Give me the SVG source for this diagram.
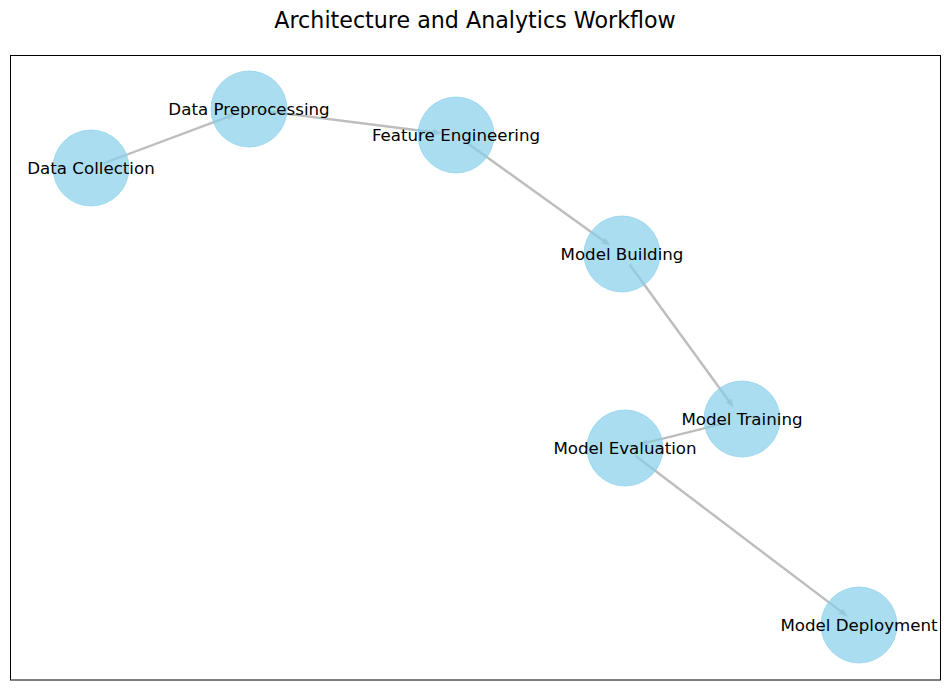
<svg xmlns="http://www.w3.org/2000/svg" width="950" height="689" viewBox="0 0 950 689">
<style>
.title{font-family:"DejaVu Sans","Liberation Sans",sans-serif;font-size:22.2px;fill:#000;text-anchor:middle}
.lbl{font-family:"DejaVu Sans","Liberation Sans",sans-serif;font-size:16.67px;fill:#000;text-anchor:middle}
.node circle{fill:#87CEEB;fill-opacity:0.7;stroke:#87CEEB;stroke-opacity:0.7;stroke-width:1}
.edge{stroke:#bdbdbd;stroke-width:2.4;fill:none;marker-end:url(#ah)}
</style>
<defs>
<marker id="ah" markerUnits="userSpaceOnUse" markerWidth="12" markerHeight="10" refX="4" refY="0" viewBox="0 -5 12 10" orient="auto" overflow="visible">
<path d="M0,-3.4 L9,0 L0,3.4 z" fill="#bdbdbd"/>
</marker>
</defs>
<rect width="950" height="689" fill="#fff"/>
<text class="title" x="475" y="28">Architecture and Analytics Workflow</text>
<rect x="10.5" y="55.5" width="930" height="624.5" fill="none" stroke="#000" stroke-width="1"/>
<g id="connectors">
<line class="edge" x1="103.2" y1="163.5" x2="231.2" y2="115.6"/>
<line class="edge" x1="261.9" y1="110.6" x2="437.1" y2="132.7"/>
<line class="edge" x1="466.6" y1="142.6" x2="606.5" y2="242.9"/>
<line class="edge" x1="629.6" y1="264.5" x2="730.9" y2="403.7"/>
<line class="edge" x1="729.4" y1="422.1" x2="643.5" y2="443.4"/>
<line class="edge" x1="635.4" y1="455.8" x2="843.8" y2="613.6"/>
</g>
<g id="n-data-collection" class="node"><circle cx="91" cy="168" r="38"/><text class="lbl" x="91" y="174">Data Collection</text></g>
<g id="n-data-preprocessing" class="node"><circle cx="249" cy="109" r="38"/><text class="lbl" x="249" y="115">Data Preprocessing</text></g>
<g id="n-feature-engineering" class="node"><circle cx="456" cy="135" r="38"/><text class="lbl" x="456" y="141">Feature Engineering</text></g>
<g id="n-model-building" class="node"><circle cx="622" cy="254" r="38"/><text class="lbl" x="622" y="260">Model Building</text></g>
<g id="n-model-training" class="node"><circle cx="742" cy="419" r="38"/><text class="lbl" x="742" y="425">Model Training</text></g>
<g id="n-model-evaluation" class="node"><circle cx="625" cy="448" r="38"/><text class="lbl" x="625" y="454">Model Evaluation</text></g>
<g id="n-model-deployment" class="node"><circle cx="859" cy="625" r="38"/><text class="lbl" x="859" y="631">Model Deployment</text></g>
</svg>
